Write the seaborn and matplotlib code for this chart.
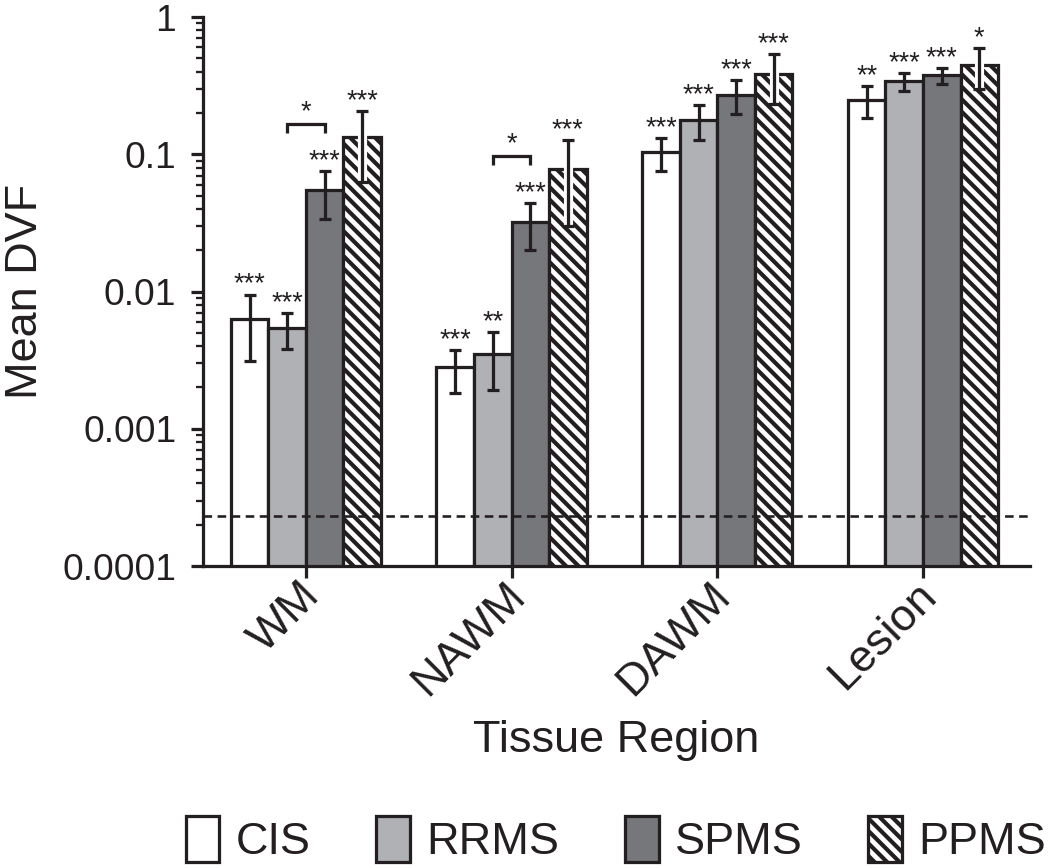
import numpy as np
import pandas as pd
import matplotlib
matplotlib.use("Agg")
import matplotlib.pyplot as plt
import matplotlib.transforms as mtransforms
import matplotlib.patheffects as pe
from matplotlib.patches import Patch
from matplotlib.ticker import FixedLocator, FixedFormatter, LogLocator, NullFormatter
import seaborn as sns

# ---------------- data ----------------
regions = ["WM", "NAWM", "DAWM", "Lesion"]
groups = ["CIS", "RRMS", "SPMS", "PPMS"]

cis_mean = [0.0063, 0.0028, 0.103, 0.25]
rrms_mean = [0.0054, 0.0035, 0.178, 0.34]
spms_mean = [0.055, 0.032, 0.272, 0.375]
ppms_mean = [0.134, 0.078, 0.385, 0.447]

cis_err = [0.0032, 0.00097, 0.028, 0.065]
rrms_err = [0.0016, 0.0016, 0.050, 0.052]
spms_err = [0.021, 0.012, 0.076, 0.051]
ppms_err = [0.071, 0.048, 0.153, 0.150]

cis_sig = ["***", "***", "***", "**"]
rrms_sig = ["***", "**", "***", "***"]
spms_sig = ["***", "***", "***", "***"]
ppms_sig = ["***", "***", "***", "*"]

detection_limit = 2.3e-4

bracket_regions = ["WM", "NAWM"]
bracket_left = ["RRMS", "RRMS"]
bracket_right = ["SPMS", "SPMS"]
bracket_y = [0.167, 0.0975]
bracket_labels = ["*", "*"]

ytick_values = [1e-4, 1e-3, 1e-2, 1e-1, 1.0]
ytick_labels = ["0.0001", "0.001", "0.01", "0.1", "1"]

means = {"CIS": cis_mean, "RRMS": rrms_mean, "SPMS": spms_mean, "PPMS": ppms_mean}
errs = {"CIS": cis_err, "RRMS": rrms_err, "SPMS": spms_err, "PPMS": ppms_err}
sigs = {"CIS": cis_sig, "RRMS": rrms_sig, "SPMS": spms_sig, "PPMS": ppms_sig}

df = pd.DataFrame(
    [{"Region": r, "Group": g, "DVF": means[g][i]}
     for g in groups for i, r in enumerate(regions)]
)

# ---------------- style ----------------
DPI = 150
INK = "#231f20"
HATCH = "\\\\\\\\"
sns.set_theme(style="ticks")
plt.rcParams["font.family"] = ["Liberation Sans", "DejaVu Sans"]
plt.rcParams["hatch.linewidth"] = 2.0
plt.rcParams["hatch.color"] = INK
plt.rcParams["text.color"] = INK
plt.rcParams["axes.labelcolor"] = INK
plt.rcParams["xtick.color"] = INK
plt.rcParams["ytick.color"] = INK

palette = {"CIS": "#ffffff", "RRMS": "#b0b1b4", "SPMS": "#76777b", "PPMS": "#ffffff"}
LW = 1.55

fig = plt.figure(figsize=(1050 / DPI, 868 / DPI), dpi=DPI)
ax = fig.add_axes([203 / 1050, 1 - 566 / 868, (1030 - 203) / 1050, (566 - 17) / 868])

sns.barplot(data=df, x="Region", y="DVF", hue="Group", order=regions,
            hue_order=groups, palette=palette, width=0.73, errorbar=None,
            edgecolor=INK, linewidth=LW, saturation=1, legend=False, ax=ax,
            zorder=2)

ax.set_yscale("log")
ax.set_ylim(1e-4, 1.0)
ax.set_xlim(-0.5, 3.52)

# hatch the PPMS bars
for b in ax.containers[3]:
    b.set_hatch(HATCH)

# error bars + significance stars
centers = {}
for cont, g in zip(ax.containers, groups):
    xs = [b.get_x() + b.get_width() / 2 for b in cont]
    hs = [b.get_height() for b in cont]
    centers[g] = xs
    eb = ax.errorbar(xs, hs, yerr=errs[g], fmt="none", ecolor=INK,
                     elinewidth=LW, capsize=2.9, capthick=LW, zorder=4)
    if g == "PPMS":
        for art in eb.lines[2]:
            art.set_path_effects([pe.Stroke(linewidth=4.4, foreground="white"), pe.Normal()])
    for x, h, e, s in zip(xs, hs, errs[g], sigs[g]):
        ax.annotate(s, (x, h + e), xytext=(0, -1.5), textcoords="offset points",
                    ha="center", va="bottom", fontsize=13, color=INK, zorder=5)

# comparison brackets
for r, gl, gr, y, lab in zip(bracket_regions, bracket_left, bracket_right,
                             bracket_y, bracket_labels):
    i = regions.index(r)
    x1, x2 = centers[gl][i], centers[gr][i]
    ax.plot([x1, x1, x2, x2], [y * 0.85, y, y, y * 0.85], color=INK, lw=LW,
            solid_capstyle="butt", solid_joinstyle="miter", zorder=5)
    ax.annotate(lab, ((x1 + x2) / 2, y), xytext=(0, -0.5), textcoords="offset points",
                ha="center", va="bottom", fontsize=13, color=INK)

# detection limit line
ax.axhline(detection_limit, color=INK, lw=1.25, linestyle=(0, (3.3, 2.1)), zorder=3)

# axes styling
sns.despine(ax=ax)
for sp in ["left", "bottom"]:
    ax.spines[sp].set_linewidth(LW)
    ax.spines[sp].set_color(INK)
ax.grid(False)

ax.yaxis.set_major_locator(FixedLocator(ytick_values))
ax.yaxis.set_major_formatter(FixedFormatter(ytick_labels))
ax.yaxis.set_minor_locator(LogLocator(base=10, subs=np.arange(2, 10) * 1.0, numticks=20))
ax.yaxis.set_minor_formatter(NullFormatter())
ax.tick_params(axis="y", which="major", length=5.8, width=LW, labelsize=17.8, pad=7)
ax.tick_params(axis="y", which="minor", length=3.4, width=1.1)
ax.tick_params(axis="x", which="major", length=5.8, width=LW, labelsize=21.6, pad=5.5)

for lbl in ax.get_xticklabels():
    lbl.set_rotation(45)
    lbl.set_ha("right")
    lbl.set_va("center")
    lbl.set_rotation_mode("anchor")
    lbl.set_transform(lbl.get_transform() +
                      mtransforms.ScaledTranslation(7 / DPI, 0, fig.dpi_scale_trans))

ax.set_xlabel("Tissue Region", fontsize=21.6, labelpad=8)
ax.set_ylabel("Mean DVF", fontsize=21.6, labelpad=8)

# legend
handles = [Patch(facecolor=palette[g], edgecolor=INK, linewidth=LW,
                 hatch=(HATCH if g == "PPMS" else None)) for g in groups]
ax.legend(handles, groups, loc="center", bbox_to_anchor=(616 / 1050, 1 - 839.5 / 868),
          bbox_transform=fig.transFigure, ncol=4, frameon=False, fontsize=21.6,
          handlelength=0.75, handleheight=1.18, handletextpad=0.37,
          columnspacing=1.45, borderpad=0, borderaxespad=0)

fig.savefig("out.png", dpi=DPI)
